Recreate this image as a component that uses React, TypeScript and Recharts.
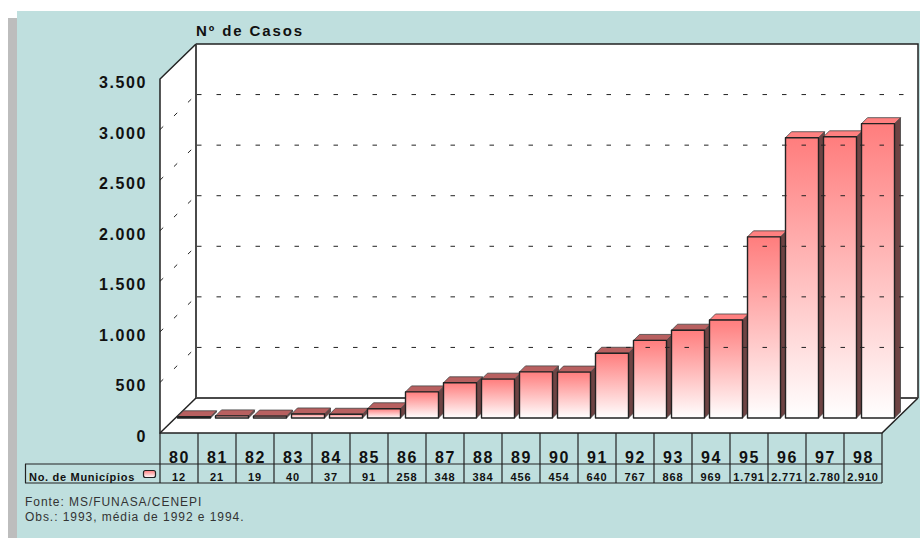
import {Bar, BarChart, Customized, ReferenceLine, XAxis, YAxis} from "recharts";

const years = ['80', '81', '82', '83', '84', '85', '86', '87', '88', '89', '90', '91', '92', '93', '94', '95', '96', '97', '98'];
const cases = [12, 21, 19, 40, 37, 91, 258, 348, 384, 456, 454, 640, 767, 868, 969, 1791, 2771, 2780, 2910];
const caseLabels = ['12', '21', '19', '40', '37', '91', '258', '348', '384', '456', '454', '640', '767', '868', '969', '1.791', '2.771', '2.780', '2.910'];
const yTicks = [0, 500, 1000, 1500, 2000, 2500, 3000, 3500];
const gridValues = [500, 1000, 1500, 2000, 2500, 3000];

const chartData = years.map((year, i) => ({year, total: cases[i], label: caseLabels[i]}));

const font = '"Liberation Sans", Arial, sans-serif';
const edge = '#222';

// how far the bars sit behind the front of the box, and the wall behind them
const barShift = 15;
const wallShift = 21;
const barDepth = 6;

const fmt = (v: number) => v === 0 ? '0' : v.toString().replace(/(\d)(\d{3})$/, '$1.$2');

const Box = () => (
  <g>
    <defs>
      <linearGradient id="barFade" x1="0" y1="0" x2="0" y2="1">
        <stop offset="0%" stopColor="#ff7d7d"/>
        <stop offset="100%" stopColor="#ffffff"/>
      </linearGradient>
    </defs>
    <polygon points="160,79 196,44 196,398 160,433" fill="#fff"/>
    <polygon points="196,44 918,44 918,398 196,398" fill="#fff"/>
    <polygon points="160,433 196,398 918,398 882,433" fill="#fff"/>
    <polyline points="196,44 918,44 918,398" fill="none" stroke={edge} strokeWidth={1.5}/>
    <polyline points="196,44 196,398 918,398" fill="none" stroke="#4a4a4a" strokeWidth={2}/>
    <polyline points="196,44 160,79 160,433 882,433 918,398" fill="none" stroke={edge} strokeWidth={1.5}/>
    <line x1={196} y1={398} x2={160} y2={433} stroke={edge} strokeWidth={1.5}/>
    <text x={196} y={36} fontFamily={font} fontSize={15} fontWeight={700} letterSpacing={1.9} fill="#111">Nº de Casos</text>
    <line x1={25} y1={464} x2={882} y2={464} stroke={edge} strokeWidth={1.2}/>
    <line x1={25} y1={483} x2={882} y2={483} stroke={edge} strokeWidth={1.2}/>
    <line x1={25.5} y1={464} x2={25.5} y2={483} stroke={edge} strokeWidth={1.2}/>
    <line x1={882} y1={433} x2={882} y2={483} stroke={edge} strokeWidth={1.2}/>
    <text x={29} y={481} fontFamily={font} fontSize={11} fontWeight={700} letterSpacing={0.7} fill="#111">No. de Municípios</text>
    <rect x={143.5} y={470.5} width={12} height={7} rx={2} fill="url(#barFade)" stroke={edge} strokeWidth={1.2}/>
    <text x={25} y={506} fontFamily={font} fontSize={12} letterSpacing={0.95} fill="#333">Fonte: MS/FUNASA/CENEPI</text>
    <text x={25} y={521} fontFamily={font} fontSize={12} letterSpacing={0.95} fill="#333">Obs.: 1993, média de 1992 e 1994.</text>
  </g>
);

const GridRow = ({x1, y1, x2}: any) => {
  const backY = y1 - (wallShift - barShift) - 14;
  return (
    <g stroke="#222" strokeWidth={1} strokeDasharray="4.5 15">
      <line x1={197} y1={backY} x2={x2 + wallShift} y2={backY}/>
      <line x1={x1 - barShift} y1={backY + 35} x2={196} y2={backY}/>
    </g>
  );
};

const YTick = ({y, payload}: any) => (
  <text x={147} y={y + 24} textAnchor="end" fontFamily={font} fontSize={16} fontWeight={700} letterSpacing={1.6} fill="#111">
    {fmt(payload.value)}
  </text>
);

const XTick = ({x, payload, index}: any) => {
  const mid = x - barShift;
  return (
    <g>
      <line x1={mid - 19} y1={433} x2={mid - 19} y2={483} stroke={edge} strokeWidth={1.2}/>
      <text x={mid + 0.5} y={463} textAnchor="middle" fontFamily={font} fontSize={16} fontWeight={700} letterSpacing={1.5} fill="#111">
        {payload.value}
      </text>
      <text x={mid} y={481} textAnchor="middle" fontFamily={font} fontSize={11} fontWeight={700} letterSpacing={0.8} fill="#111">
        {caseLabels[index]}
      </text>
    </g>
  );
};

const Bar3D = ({x, y, width, height, value}: any) => {
  const d = barDepth;
  const r = x + width;
  const b = y + height;
  const tall = value > 900;
  return (
    <g strokeLinejoin="round">
      <polygon points={`${r},${y} ${r + d},${y - d} ${r + d},${b - d} ${r},${b}`} fill="#6e4343" stroke="#444" strokeWidth={0.8}/>
      <polygon points={`${x},${y} ${x + d},${y - d} ${r + d},${y - d} ${r},${y}`} fill={tall ? '#ff8080' : '#b86060'} stroke="#444" strokeWidth={0.8}/>
      <rect x={x} y={y} width={width} height={height} fill="url(#barFade)" stroke={edge} strokeWidth={1.4}/>
    </g>
  );
};

const App = () => (
  <div style={{position: 'absolute', left: 0, top: 0, width: 920, height: 538, overflow: 'hidden', background: '#fff'}}>
    <div style={{position: 'absolute', left: 8, top: 18, width: 9, height: 520, background: '#bdbdbd'}}/>
    <div style={{position: 'absolute', left: 17, top: 11, width: 903, height: 527, background: '#bfdfde'}}/>
    <div style={{position: 'absolute', left: 0, top: 0}}>
      <BarChart
        width={920}
        height={538}
        data={chartData}
        margin={{top: 64, right: 23, bottom: 0, left: 0}}
        barCategoryGap={2.5}
      >
        <Customized component={Box}/>
        <XAxis dataKey="year" height={120} interval={0} axisLine={false} tickLine={false} tick={XTick}/>
        <YAxis width={175} domain={[0, 3500]} ticks={yTicks} axisLine={false} tickLine={false} tick={YTick}/>
        {gridValues.map(v => (
          <ReferenceLine key={v} y={v} shape={GridRow}/>
        ))}
        <Bar dataKey="total" shape={Bar3D} isAnimationActive={false}/>
      </BarChart>
    </div>
  </div>
);

export default App;
